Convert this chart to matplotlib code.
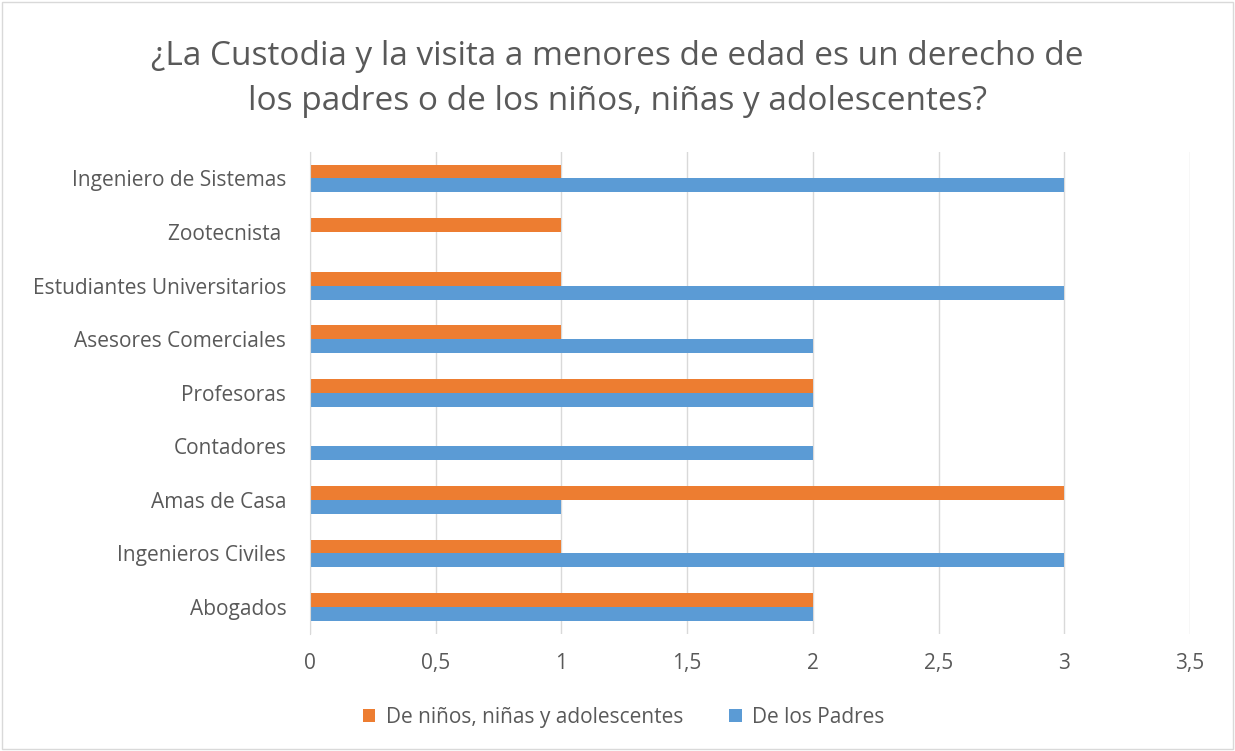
import matplotlib
matplotlib.use("Agg")
import matplotlib.pyplot as plt
import numpy as np

categorias = ["Abogados", "Ingenieros Civiles", "Amas de Casa", "Contadores",
              "Profesoras", "Asesores Comerciales", "Estudiantes Universitarios",
              "Zootecnista ", "Ingeniero de Sistemas"]
ninos = [2, 1, 3, 0, 2, 1, 1, 1, 1]
padres = [2, 3, 1, 2, 2, 2, 3, 0, 3]
xticks = [0, 0.5, 1, 1.5, 2, 2.5, 3, 3.5]
xtick_labels = ["0", "0,5", "1", "1,5", "2", "2,5", "3", "3,5"]

plt.rcParams['font.family'] = ['Open Sans', 'DejaVu Sans']
gris = "#595959"

fig = plt.figure(figsize=(12.35, 7.51), dpi=100)
ax = fig.add_axes([0.251, 0.156, 0.7126, 0.642])

y = np.arange(len(categorias))
h = 0.26
ax.barh(y + h / 2, ninos, height=h, color="#ED7D31", label="De niños, niñas y adolescentes")
ax.barh(y - h / 2, padres, height=h, color="#5B9BD5", label="De los Padres")

ax.set_xlim(0, 3.5)
ax.set_ylim(-0.5, len(categorias) - 0.5)
ax.set_xticks(xticks)
ax.set_xticklabels(xtick_labels)
ax.set_yticks(y)
ax.set_yticklabels(categorias)
ax.tick_params(axis="both", length=0, labelsize=15, colors=gris)
ax.tick_params(axis="x", pad=14)
ax.tick_params(axis="y", pad=17)
ax.grid(axis="x", color="#D9D9D9", linewidth=1)
ax.set_axisbelow(True)
for s in ["top", "right", "bottom"]:
    ax.spines[s].set_visible(False)
ax.spines["left"].set_color("#D9D9D9")

fig.text(0.5, 0.895, "¿La Custodia y la visita a menores de edad es un derecho de\nlos padres o de los niños, niñas y adolescentes?",
         ha="center", va="center", fontsize=24, color=gris, linespacing=1.5)

fig.legend(loc="center", bbox_to_anchor=(0.505, 0.045), ncol=2, frameon=False,
           fontsize=15, labelcolor=gris, handlelength=0.6, handleheight=0.6,
           columnspacing=2.2, handletextpad=0.5)

fig.patches.append(plt.Rectangle((0.002, 0.002), 0.996, 0.996, transform=fig.transFigure,
                                 fill=False, edgecolor="#D9D9D9", linewidth=1))

fig.savefig("out.png", dpi=100)
